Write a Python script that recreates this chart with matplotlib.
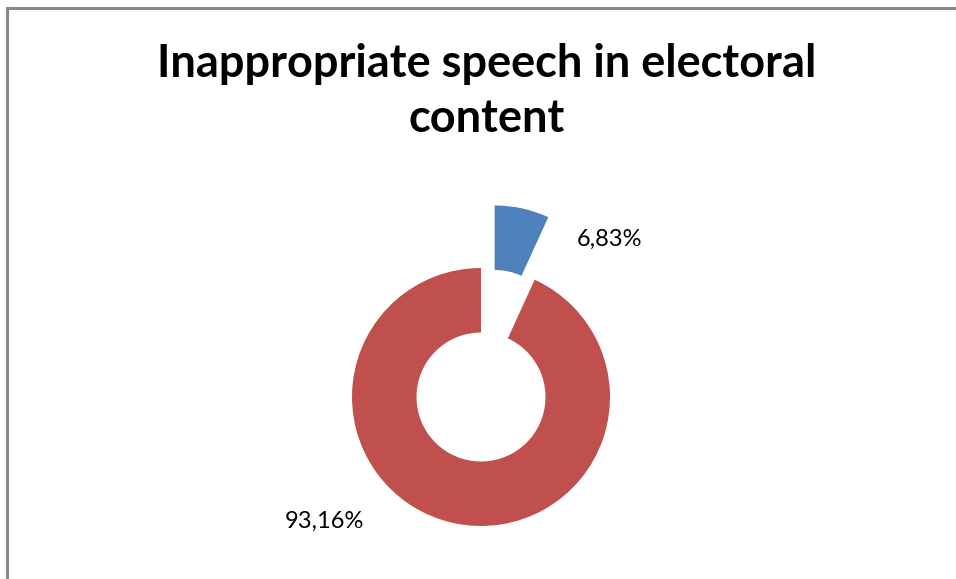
import matplotlib
matplotlib.use('Agg')
import matplotlib.pyplot as plt
from matplotlib.lines import Line2D

###### dados do grafico
categorias = ['Appropriate', 'Inappropriate']
valores = [6.83, 93.16]
cores = ['#4F81BD', '#C0504D']
titulo = ['Inappropriate speech in electoral', 'content']

###### figura em pixels (largura x altura)
W, H = 956, 579
fig = plt.figure(figsize=(W / 100, H / 100), dpi=100)
ax = fig.add_axes([0, 0, 1, 1])
ax.set_xlim(0, W)
ax.set_ylim(0, H)
ax.set_aspect('equal')
ax.axis('off')

###### moldura (so esquerda e topo aparecem)
fig.add_artist(Line2D([7 / W, 7 / W], [0, 1 - 7.5 / H], transform=fig.transFigure,
                      color='#878787', lw=2.2))
fig.add_artist(Line2D([7 / W, 1], [1 - 7.5 / H, 1 - 7.5 / H], transform=fig.transFigure,
                      color='#878787', lw=2.2))

###### rosca com a fatia azul destacada
raio = 129
cx, cy = 481, H - 397
ax.pie(valores, colors=cores, startangle=90, counterclock=False,
       radius=raio, center=(cx, cy), explode=[64, 0],
       wedgeprops=dict(width=raio * 0.5, linewidth=0))
ax.set_xlim(0, W)
ax.set_ylim(0, H)

###### rotulos com virgula decimal
rotulos = ['{:.2f}%'.format(v).replace('.', ',') for v in valores]
pos_rotulos = [(610, H - 239), (324, H - 521)]
for txt, (x, y) in zip(rotulos, pos_rotulos):
    ax.text(x, y, txt, ha='center', va='center', fontsize=17,
            family='Lato', color='black')

###### titulo em duas linhas
for linha, base in zip(titulo, [77, 132]):
    ax.text(487, H - base, linha, ha='center', va='baseline', fontsize=32.5,
            family='Lato', fontweight='bold')

fig.savefig('out.png', dpi=100)
